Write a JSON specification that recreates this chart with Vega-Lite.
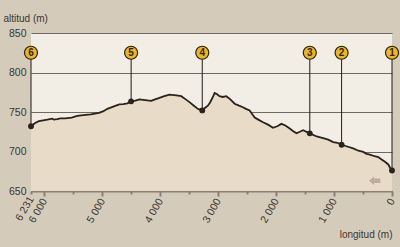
{
  "$schema": "https://vega.github.io/schema/vega-lite/v6.json",
  "autosize": {"type": "none"},
  "padding": {"left": 31, "top": 33, "right": 8, "bottom": 56},
  "width": 361,
  "height": 158,
  "background": "#d5cbbb",
  "config": {
    "view": {"fill": "#f3eee5", "stroke": null},
    "font": "Liberation Sans",
    "axis": {"labelFont": "Liberation Sans", "titleFont": "Liberation Sans"}
  },
  "datasets": {
    "profile": [
      {"dist": 0, "elev": 676}, {"dist": 22, "elev": 678}, {"dist": 64, "elev": 683.6}, {"dist": 121, "elev": 687},
      {"dist": 180, "elev": 690}, {"dist": 237, "elev": 693}, {"dist": 300, "elev": 694}, {"dist": 381, "elev": 696},
      {"dist": 440, "elev": 697}, {"dist": 497, "elev": 699.5}, {"dist": 580, "elev": 701}, {"dist": 670, "elev": 704},
      {"dist": 760, "elev": 706}, {"dist": 870, "elev": 708.5}, {"dist": 940, "elev": 711}, {"dist": 1016, "elev": 712},
      {"dist": 1100, "elev": 715}, {"dist": 1189, "elev": 717}, {"dist": 1300, "elev": 719}, {"dist": 1419, "elev": 723},
      {"dist": 1535, "elev": 727}, {"dist": 1590, "elev": 725}, {"dist": 1649, "elev": 723}, {"dist": 1710, "elev": 726},
      {"dist": 1765, "elev": 729}, {"dist": 1840, "elev": 733}, {"dist": 1908, "elev": 735}, {"dist": 1980, "elev": 732},
      {"dist": 2054, "elev": 730}, {"dist": 2140, "elev": 734}, {"dist": 2227, "elev": 737}, {"dist": 2300, "elev": 740},
      {"dist": 2370, "elev": 743}, {"dist": 2420, "elev": 748}, {"dist": 2457, "elev": 752}, {"dist": 2520, "elev": 754}, {"dist": 2573, "elev": 756},
      {"dist": 2640, "elev": 758}, {"dist": 2716, "elev": 760.5}, {"dist": 2790, "elev": 766}, {"dist": 2860, "elev": 770},
      {"dist": 2920, "elev": 769}, {"dist": 2976, "elev": 770}, {"dist": 3030, "elev": 773}, {"dist": 3062, "elev": 774},
      {"dist": 3092, "elev": 769}, {"dist": 3140, "elev": 762}, {"dist": 3178, "elev": 758}, {"dist": 3230, "elev": 755},
      {"dist": 3275, "elev": 752}, {"dist": 3320, "elev": 753}, {"dist": 3351, "elev": 754}, {"dist": 3420, "elev": 758},
      {"dist": 3495, "elev": 762.5}, {"dist": 3560, "elev": 766}, {"dist": 3638, "elev": 770}, {"dist": 3720, "elev": 771},
      {"dist": 3841, "elev": 772}, {"dist": 3930, "elev": 770}, {"dist": 4014, "elev": 768}, {"dist": 4090, "elev": 766},
      {"dist": 4157, "elev": 764}, {"dist": 4260, "elev": 765}, {"dist": 4360, "elev": 766}, {"dist": 4430, "elev": 764.5},
      {"dist": 4503, "elev": 763.5}, {"dist": 4567, "elev": 761}, {"dist": 4640, "elev": 760}, {"dist": 4706, "elev": 759.6},
      {"dist": 4800, "elev": 757}, {"dist": 4913, "elev": 754}, {"dist": 4980, "elev": 751}, {"dist": 5057, "elev": 749},
      {"dist": 5200, "elev": 747}, {"dist": 5330, "elev": 746}, {"dist": 5432, "elev": 745}, {"dist": 5530, "elev": 743},
      {"dist": 5640, "elev": 742}, {"dist": 5721, "elev": 742}, {"dist": 5780, "elev": 741}, {"dist": 5835, "elev": 740.3},
      {"dist": 5865, "elev": 741.6}, {"dist": 5951, "elev": 740.3}, {"dist": 6020, "elev": 739.5}, {"dist": 6095, "elev": 738.5},
      {"dist": 6160, "elev": 736}, {"dist": 6231, "elev": 732}
    ],
    "markers": [
      {"dist": 0, "elev": 676, "label": "1"},
      {"dist": 870, "elev": 708.5, "label": "2"},
      {"dist": 1419, "elev": 723, "label": "3"},
      {"dist": 3275, "elev": 752, "label": "4"},
      {"dist": 4503, "elev": 763.5, "label": "5"},
      {"dist": 6231, "elev": 732, "label": "6"}
    ],
    "arrow": [{"dist": 300, "elev": 663}]
  },
  "encoding": {
    "x": {
      "field": "dist", "type": "quantitative",
      "scale": {"domain": [0, 6231], "reverse": true, "nice": false, "zero": false},
      "axis": {
        "orient": "bottom",
        "values": [6231, 6000, 5500, 5000, 4500, 4000, 3500, 3000, 2500, 2000, 1500, 1000, 500, 0],
        "labelExpr": "(datum.value % 1000 == 0 || datum.value == 6231) ? replace(format(datum.value, ','), ',', ' ') : ''",
        "labelAngle": -60,
        "labelFontSize": 10.5,
        "labelColor": "#3a3630",
        "labelPadding": 3,
        "labelOverlap": false,
        "labelFlush": false,
        "grid": false,
        "domainColor": "#8a8072",
        "domainWidth": 2,
        "tickColor": "#8a8072",
        "tickWidth": 2,
        "tickSize": {"condition": {"test": "datum.value % 1000 == 0", "value": 5}, "value": 3},
        "title": "longitud (m)",
        "titleFontSize": 10,
        "titleFontWeight": "normal",
        "titleColor": "#3a3630",
        "titleX": 361,
        "titleY": 43,
        "titleAlign": "right",
        "titleAnchor": "end",
        "titleBaseline": "middle"
      }
    },
    "y": {
      "field": "elev", "type": "quantitative",
      "scale": {"domain": [650, 850], "nice": false, "zero": false},
      "axis": {
        "values": [650, 700, 750, 800, 850],
        "grid": true,
        "gridColor": "#6e6961",
        "gridWidth": 1,
        "domain": false,
        "ticks": false,
        "labelPadding": 5,
        "labelFontSize": 10.5,
        "labelColor": "#3a3630",
        "title": "altitud (m)",
        "titleAngle": 0,
        "titleFontSize": 10,
        "titleFontWeight": "normal",
        "titleColor": "#3a3630",
        "titleX": -28,
        "titleY": -15,
        "titleAlign": "left",
        "titleBaseline": "middle"
      }
    }
  },
  "layer": [
    {
      "data": {"name": "profile"},
      "mark": {"type": "area", "color": "#e8dbc8", "opacity": 1},
      "encoding": {"y2": {"datum": 650}}
    },
    {
      "data": {"name": "profile"},
      "mark": {"type": "line", "color": "#2a221c", "strokeWidth": 1.8}
    },
    {
      "data": {"name": "markers"},
      "mark": {"type": "rule", "color": "#1e1a16", "strokeWidth": 1},
      "encoding": {"y2": {"datum": 825}}
    },
    {
      "data": {"name": "markers"},
      "mark": {"type": "point", "filled": true, "color": "#2a221c", "size": 34, "opacity": 1}
    },
    {
      "data": {"name": "markers"},
      "mark": {"type": "point", "filled": true, "fill": "#eab62c", "stroke": "#2a2010", "strokeWidth": 1.2, "size": 170, "opacity": 1},
      "encoding": {"y": {"datum": 825}}
    },
    {
      "data": {"name": "markers"},
      "mark": {"type": "text", "fontSize": 10, "fontWeight": "bold", "color": "#3a2606", "baseline": "middle", "align": "center", "dy": 0.5},
      "encoding": {"y": {"datum": 825}, "text": {"field": "label"}}
    },
    {
      "data": {"name": "arrow"},
      "mark": {"type": "point", "filled": true, "color": "#bcae9a", "opacity": 1, "size": 130,
        "shape": "M-1,0L-0.1,-0.75L-0.1,-0.4L1,-0.4L1,0.4L-0.1,0.4L-0.1,0.75Z"}
    }
  ]
}
